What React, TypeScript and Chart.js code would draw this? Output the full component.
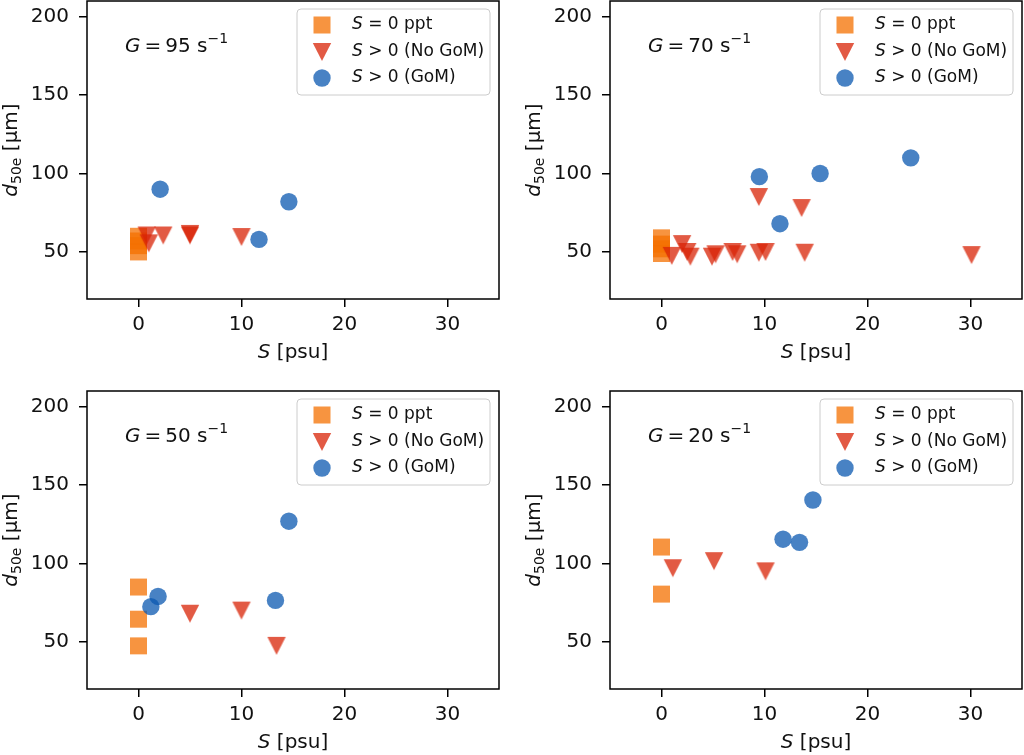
import React, { useEffect, useRef } from "react";
import { Chart, registerables } from "chart.js";

Chart.register(...registerables);

// ---------- data ----------
const X_TICKS = [0, 10, 20, 30];
const Y_TICKS = [50, 100, 150, 200];
const X_MIN = -5;
const X_MAX = 35;
const Y_MIN = 20;
const Y_MAX = 210;

const LEGEND_LABELS = [" = 0 ppt", " > 0 (No GoM)", " > 0 (GoM)"];

// G = 95 s^-1
const g95SqS = [0, 0, 0, 0];
const g95SqD = [50, 54, 57, 60];
const g95TriS = [0.8, 1.0, 2.4, 5.0, 5.0, 10.0];
const g95TriD = [60.5, 55.5, 60.5, 61.5, 60.5, 59.5];
const g95CirS = [2.1, 11.7, 14.6];
const g95CirD = [90, 58, 82];

// G = 70 s^-1
const g70SqS = [0, 0, 0, 0];
const g70SqD = [49, 52, 55, 59];
const g70TriS = [1.0, 2.0, 2.5, 2.8, 4.9, 5.25, 6.9, 7.35, 9.45, 10.1, 9.45, 13.6, 13.9, 30.1];
const g70TriD = [47.5, 55, 50, 47, 47, 48.5, 50, 48.5, 49.5, 50, 85, 78, 49.5, 48];
const g70CirS = [9.5, 11.5, 15.4, 24.2];
const g70CirD = [98, 68, 100, 110];

// G = 50 s^-1
const g50SqS = [0, 0, 0];
const g50SqD = [85, 64.5, 47.5];
const g50TriS = [5.0, 10.0, 13.4];
const g50TriD = [68, 70, 47.5];
const g50CirS = [1.2, 1.9, 13.3, 14.6];
const g50CirD = [72.5, 79, 76.5, 127];

// G = 20 s^-1
const g20SqS = [0, 0];
const g20SqD = [110.5, 80.5];
const g20TriS = [1.1, 5.1, 10.1];
const g20TriD = [97, 101.5, 95];
const g20CirS = [11.8, 13.4, 14.7];
const g20CirD = [115.5, 113.5, 140.5];

// ---------- style ----------
const SQ_COLOR = "rgba(244,112,0,0.75)";
const TRI_COLOR = "rgba(216,35,6,0.75)";
const CIR_COLOR = "rgba(11,88,176,0.75)";
const FONT = "'DejaVu Sans', 'Liberation Sans', sans-serif";
const TEXT_COLOR = "#111";

type Run = { t: string; size: number; italic?: boolean; dy?: number };

function drawRuns(ctx: CanvasRenderingContext2D, runs: Run[], x: number, y: number, align: "left" | "center") {
  let total = 0;
  const widths = runs.map((r) => {
    ctx.font = `${r.italic ? "italic " : ""}${r.size}px ${FONT}`;
    const w = ctx.measureText(r.t).width;
    total += w;
    return w;
  });
  let cx = align === "center" ? x - total / 2 : x;
  ctx.textAlign = "left";
  ctx.textBaseline = "middle";
  runs.forEach((r, i) => {
    ctx.font = `${r.italic ? "italic " : ""}${r.size}px ${FONT}`;
    ctx.fillText(r.t, cx, y + (r.dy || 0));
    cx += widths[i];
  });
}

let triCanvas: HTMLCanvasElement | null = null;
function getTri(): HTMLCanvasElement {
  if (triCanvas) return triCanvas;
  const c = document.createElement("canvas");
  c.width = 20;
  c.height = 20;
  const x = c.getContext("2d")!;
  x.fillStyle = TRI_COLOR;
  x.beginPath();
  x.moveTo(0.8, 1);
  x.lineTo(19.2, 1);
  x.lineTo(10, 19);
  x.closePath();
  x.fill();
  triCanvas = c;
  return c;
}

type PanelDef = {
  g: number;
  sqS: number[];
  sqD: number[];
  triS: number[];
  triD: number[];
  cirS: number[];
  cirD: number[];
  left: number;
  top: number;
  w: number;
  h: number;
  caLeft: number;
  caTop: number;
};

const CA_W = 412;
const CA_H = 298;

const PANELS: PanelDef[] = [
  { g: 95, sqS: g95SqS, sqD: g95SqD, triS: g95TriS, triD: g95TriD, cirS: g95CirS, cirD: g95CirD, left: 0, top: 0, w: 512, h: 378, caLeft: 87, caTop: 1 },
  { g: 70, sqS: g70SqS, sqD: g70SqD, triS: g70TriS, triD: g70TriD, cirS: g70CirS, cirD: g70CirD, left: 512, top: 0, w: 512, h: 378, caLeft: 98, caTop: 1 },
  { g: 50, sqS: g50SqS, sqD: g50SqD, triS: g50TriS, triD: g50TriD, cirS: g50CirS, cirD: g50CirD, left: 0, top: 378, w: 512, h: 377, caLeft: 87, caTop: 13 },
  { g: 20, sqS: g20SqS, sqD: g20SqD, triS: g20TriS, triD: g20TriD, cirS: g20CirS, cirD: g20CirD, left: 512, top: 378, w: 512, h: 377, caLeft: 98, caTop: 13 },
];

const pts = (xs: number[], ys: number[]) => xs.map((x, i) => ({ x, y: ys[i] }));

function Panel({ p }: { p: PanelDef }) {
  const ref = useRef<HTMLCanvasElement>(null);
  useEffect(() => {
    if (!ref.current) return;
    const tri = getTri();
    const decor = {
      id: "decor",
      afterDraw(chart: any) {
        const ctx: CanvasRenderingContext2D = chart.ctx;
        const ca = chart.chartArea;
        const ys = chart.scales.y;
        ctx.save();
        // frame
        ctx.strokeStyle = "#000";
        ctx.lineWidth = 1.5;
        ctx.strokeRect(ca.left, ca.top, ca.right - ca.left, ca.bottom - ca.top);
        ctx.fillStyle = TEXT_COLOR;
        // y tick labels
        ctx.font = `20px ${FONT}`;
        ctx.textAlign = "right";
        ctx.textBaseline = "middle";
        Y_TICKS.forEach((v) => {
          ctx.fillText(String(v), ca.left - 18, ys.getPixelForValue(v));
        });
        // x title
        drawRuns(ctx, [{ t: "S", size: 20, italic: true }, { t: " [psu]", size: 20 }], (ca.left + ca.right) / 2, ca.bottom + 54, "center");
        // y title
        ctx.save();
        ctx.translate(ca.left - 75, (ca.top + ca.bottom) / 2);
        ctx.rotate(-Math.PI / 2);
        drawRuns(ctx, [
          { t: "d", size: 20, italic: true },
          { t: "50e", size: 14, dy: 5 },
          { t: " [µm]", size: 20 },
        ], 0, 0, "center");
        ctx.restore();
        // annotation
        drawRuns(ctx, [
          { t: "G", size: 20, italic: true },
          { t: `\u2009=\u2009${p.g} s`, size: 20 },
          { t: "−1", size: 14, dy: -8 },
        ], ca.left + 38, ca.top + 46, "left");
        // legend
        const bw = 193, bh = 86;
        const bx = ca.right - 9 - bw, by = ca.top + 8;
        ctx.beginPath();
        (ctx as any).roundRect(bx, by, bw, bh, 4);
        ctx.fillStyle = "rgba(255,255,255,0.8)";
        ctx.fill();
        ctx.strokeStyle = "#cccccc";
        ctx.lineWidth = 1;
        ctx.stroke();
        const rows = [by + 16, by + 43, by + 69];
        const mx = bx + 25;
        ctx.fillStyle = SQ_COLOR;
        ctx.fillRect(mx - 8.5, rows[0] - 8.5, 17, 17);
        ctx.drawImage(tri, mx - 10, rows[1] - 10);
        ctx.fillStyle = CIR_COLOR;
        ctx.beginPath();
        ctx.arc(mx, rows[2], 8.7, 0, Math.PI * 2);
        ctx.fill();
        ctx.fillStyle = TEXT_COLOR;
        LEGEND_LABELS.forEach((lab, i) => {
          drawRuns(ctx, [{ t: "S", size: 17, italic: true }, { t: lab, size: 17 }], bx + 55, rows[i], "left");
        });
        ctx.restore();
      },
    };
    const axisCommon = {
      type: "linear" as const,
      grid: { drawOnChartArea: false, drawTicks: true, tickLength: 8, color: "#000", lineWidth: 1.5 },
      border: { display: false },
    };
    const chart = new Chart(ref.current, {
      type: "scatter",
      data: {
        datasets: [
          { label: "sq", data: pts(p.sqS, p.sqD), pointStyle: "rect", pointRadius: 12, backgroundColor: SQ_COLOR, borderWidth: 0, order: 3 },
          { label: "tri", data: pts(p.triS, p.triD), pointStyle: tri, pointRadius: 10, backgroundColor: TRI_COLOR, borderWidth: 0, order: 2 },
          { label: "cir", data: pts(p.cirS, p.cirD), pointStyle: "circle", pointRadius: 8.7, backgroundColor: CIR_COLOR, borderWidth: 0, order: 1 },
        ] as any,
      },
      options: {
        animation: false,
        responsive: false,
        events: [],
        layout: { autoPadding: false, padding: { left: 0, top: p.caTop, right: p.w - p.caLeft - CA_W, bottom: 0 } },
        plugins: { legend: { display: false }, tooltip: { enabled: false } },
        scales: {
          x: {
            ...axisCommon,
            min: X_MIN,
            max: X_MAX,
            afterBuildTicks: (s: any) => { s.ticks = X_TICKS.map((v) => ({ value: v })); },
            afterFit: (s: any) => {
              s.height = p.h - p.caTop - CA_H;
              s.paddingLeft = 0; s.paddingRight = 0; s.paddingTop = 0; s.paddingBottom = 0;
            },
            ticks: { font: { family: FONT, size: 20 }, color: TEXT_COLOR, padding: 6, maxRotation: 0, autoSkip: false },
          },
          y: {
            ...axisCommon,
            min: Y_MIN,
            max: Y_MAX,
            afterBuildTicks: (s: any) => { s.ticks = Y_TICKS.map((v) => ({ value: v })); },
            afterFit: (s: any) => {
              s.width = p.caLeft;
              s.paddingLeft = 0; s.paddingRight = 0; s.paddingTop = 0; s.paddingBottom = 0;
            },
            ticks: { display: false },
          },
        },
      } as any,
      plugins: [decor],
    });
    return () => chart.destroy();
  }, [p]);
  return (
    <canvas
      ref={ref}
      width={p.w}
      height={p.h}
      style={{ position: "absolute", left: p.left, top: p.top, width: p.w, height: p.h }}
    />
  );
}

export default function App() {
  return (
    <div style={{ position: "absolute", left: 0, top: 0, width: 1024, height: 755, background: "#fff", overflow: "hidden" }}>
      {PANELS.map((p) => (
        <Panel key={p.g} p={p} />
      ))}
    </div>
  );
}
